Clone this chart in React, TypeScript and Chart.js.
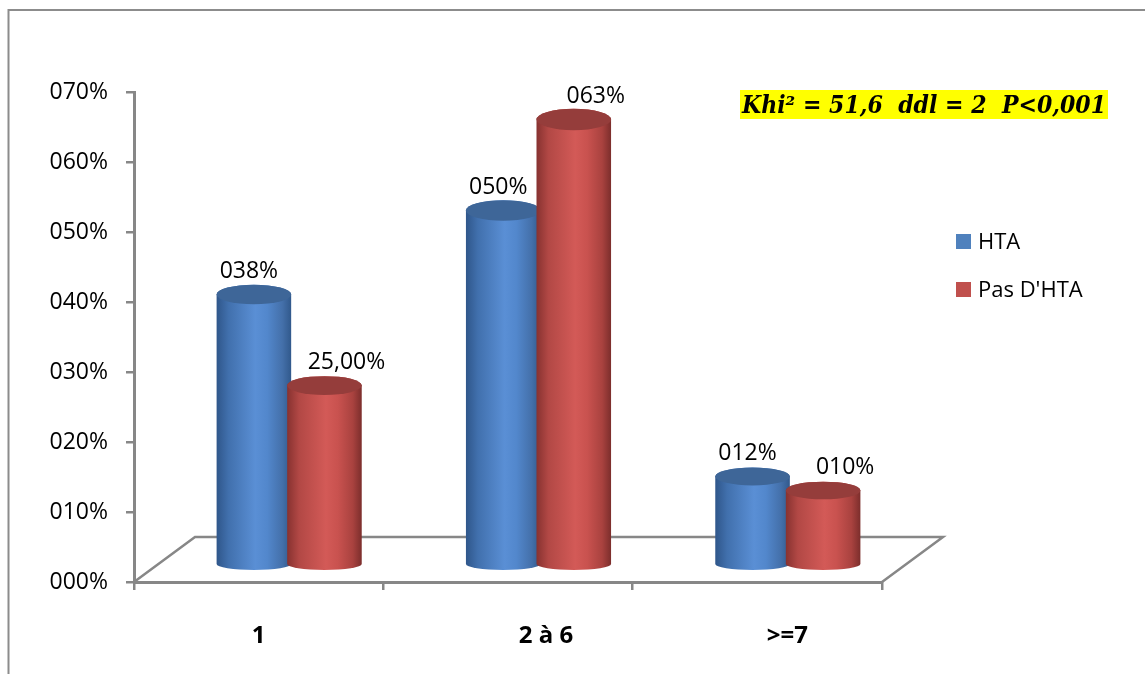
import { useEffect, useRef } from "react";
import { Chart, registerables } from "chart.js";

Chart.register(...registerables);

// ---- data ----
const CATEGORIES = ["1", "2 à 6", ">=7"];
const SERIES_NAMES = ["HTA", "Pas D'HTA"];
const HTA_VALUES = [38, 50, 12];
const PAS_HTA_VALUES = [25, 63, 10];
const HTA_LABELS = ["038%", "050%", "012%"];
const PAS_HTA_LABELS = ["25,00%", "063%", "010%"];
const Y_TICK_LABELS = ["000%", "010%", "020%", "030%", "040%", "050%", "060%", "070%"];
const STATS_NOTE = "Khi² = 51,6  ddl = 2  P<0,001";

// ---- styling ----
const AXIS_GRAY = "#878787";
const FRAME_GRAY = "#8c8c8c";
const SANS = "'Open Sans', 'Noto Sans', sans-serif";
const LEGEND_COLORS = ["#4f81bd", "#c0504d"];
const BODY_STOPS = [
  ["#2f568a", "#4170ad", "#5a8fd5", "#5287cc", "#4470aa", "#31598c"],
  ["#873230", "#b24845", "#d35a57", "#c9524f", "#a9423f", "#7c2e2c"],
];
const TOP_COLORS = ["#3e6698", "#953d3b"];
// floor depth of the 3-D plot box
const DEPTH_X = 61;
const DEPTH_Y = 45;
// category label shifts along the perspective floor
const CAT_LABEL_SHIFT = [0, 38, 30];
// data label placement per series, relative to the top of each cylinder
const VALUE_LABEL_DX = [-5, 22];
const VALUE_LABEL_DY = -23;

function drawCylinder(
  ctx: CanvasRenderingContext2D,
  cx: number,
  r: number,
  yTop: number,
  yBot: number,
  ryTop: number,
  ryBot: number,
  series: number
) {
  const grad = ctx.createLinearGradient(cx - r, 0, cx + r, 0);
  const stops = BODY_STOPS[series];
  const pos = [0, 0.16, 0.52, 0.68, 0.88, 1];
  stops.forEach((c, i) => grad.addColorStop(pos[i], c));

  ctx.beginPath();
  ctx.moveTo(cx - r, yTop);
  ctx.lineTo(cx - r, yBot);
  ctx.ellipse(cx, yBot, r, ryBot, 0, Math.PI, 0, true);
  ctx.lineTo(cx + r, yTop);
  ctx.ellipse(cx, yTop, r, ryTop, 0, 0, Math.PI, true);
  ctx.closePath();
  ctx.fillStyle = grad;
  ctx.fill();

  // top face
  ctx.beginPath();
  ctx.ellipse(cx, yTop, r, ryTop, 0, 0, Math.PI * 2);
  ctx.fillStyle = TOP_COLORS[series];
  ctx.fill();
}

const cylinderPlugin = {
  id: "cylinders3d",
  beforeDatasetsDraw(chart: any) {
    const { ctx, chartArea: a } = chart;
    const yScale = chart.scales.y;

    // floor outline (back edge and both sides)
    ctx.save();
    ctx.strokeStyle = AXIS_GRAY;
    ctx.lineWidth = 2.5;
    ctx.lineJoin = "miter";
    ctx.beginPath();
    ctx.moveTo(a.left, a.bottom);
    ctx.lineTo(a.left + DEPTH_X, a.bottom - DEPTH_Y);
    ctx.lineTo(a.right + DEPTH_X, a.bottom - DEPTH_Y);
    ctx.lineTo(a.right, a.bottom);
    ctx.stroke();

    // cylinders, category by category so the second series overlaps the first
    const base = yScale.getPixelForValue(0);
    const yBot = base - DEPTH_Y / 2 + 4.5;
    for (let i = 0; i < CATEGORIES.length; i++) {
      chart.data.datasets.forEach((ds: any, di: number) => {
        const bar = chart.getDatasetMeta(di).data[i];
        const v = ds.data[i];
        const cx = bar.x + DEPTH_X / 2;
        const r = bar.width / 2 + 2;
        const yTop = yScale.getPixelForValue(v) - DEPTH_Y / 2 + 1;
        const ryTop = 8.5 + v * 0.035;
        drawCylinder(ctx, cx, r, yTop, yBot, ryTop, 6, di);
      });
    }
    ctx.restore();
    return false;
  },
  afterDraw(chart: any) {
    const { ctx, chartArea: a } = chart;
    const xScale = chart.scales.x;
    const yScale = chart.scales.y;
    ctx.save();

    // value labels
    ctx.font = `23px ${SANS}`;
    ctx.fillStyle = "#000";
    ctx.textAlign = "center";
    ctx.textBaseline = "middle";
    const labelSets = [HTA_LABELS, PAS_HTA_LABELS];
    chart.data.datasets.forEach((ds: any, di: number) => {
      chart.getDatasetMeta(di).data.forEach((bar: any, i: number) => {
        const cx = bar.x + DEPTH_X / 2;
        const yTop = yScale.getPixelForValue(ds.data[i]) - DEPTH_Y / 2 + 1;
        ctx.fillText(labelSets[di][i], cx + VALUE_LABEL_DX[di], yTop + VALUE_LABEL_DY);
      });
    });

    // category labels
    ctx.font = `bold 24px ${SANS}`;
    CATEGORIES.forEach((c, i) => {
      ctx.fillText(c, xScale.getPixelForValue(i) + CAT_LABEL_SHIFT[i], a.bottom + 54);
    });

    // legend
    ctx.textAlign = "left";
    ctx.font = `22px ${SANS}`;
    SERIES_NAMES.forEach((name, i) => {
      const cy = 241.5 + i * 48;
      ctx.fillStyle = LEGEND_COLORS[i];
      ctx.fillRect(956, cy - 7.5, 15, 15);
      ctx.fillStyle = "#000";
      ctx.fillText(name, 978, cy + 1);
    });

    // statistics note
    ctx.fillStyle = "#ffff00";
    ctx.fillRect(740, 90, 368, 29);
    ctx.fillStyle = "#000";
    ctx.font = "italic bold 24px 'DejaVu Serif', serif";
    ctx.textBaseline = "alphabetic";
    ctx.fillText(STATS_NOTE, 742, 113, 364);

    // outer frame
    ctx.strokeStyle = FRAME_GRAY;
    ctx.lineWidth = 2;
    ctx.beginPath();
    ctx.moveTo(8.5, chart.height);
    ctx.lineTo(8.5, 10);
    ctx.lineTo(chart.width, 10);
    ctx.stroke();
    ctx.restore();
  },
};

export default function App() {
  const ref = useRef<HTMLCanvasElement>(null);

  useEffect(() => {
    const canvas = ref.current;
    if (!canvas) return;
    const chart = new Chart(canvas, {
      type: "bar",
      data: {
        labels: CATEGORIES,
        datasets: [
          { label: SERIES_NAMES[0], data: HTA_VALUES, backgroundColor: LEGEND_COLORS[0] },
          { label: SERIES_NAMES[1], data: PAS_HTA_VALUES, backgroundColor: LEGEND_COLORS[1] },
        ],
      },
      options: {
        responsive: false,
        animation: false,
        devicePixelRatio: 1,
        layout: { padding: { left: 10, top: 92, right: 263, bottom: 0 } },
        datasets: { bar: { categoryPercentage: 0.566, barPercentage: 1 } },
        plugins: { legend: { display: false }, tooltip: { enabled: false } },
        scales: {
          x: {
            offset: true,
            grid: {
              display: true,
              offset: true,
              drawOnChartArea: false,
              drawTicks: true,
              tickLength: 8,
              color: AXIS_GRAY,
              lineWidth: 2.5,
            },
            border: { display: true, color: AXIS_GRAY, width: 3 },
            ticks: { display: false },
            afterFit: (s: any) => {
              s.height = 92;
            },
          },
          y: {
            min: 0,
            max: 70,
            grid: {
              display: true,
              drawOnChartArea: false,
              drawTicks: true,
              tickLength: 8,
              color: AXIS_GRAY,
              lineWidth: 2.5,
            },
            border: { display: true, color: AXIS_GRAY, width: 3 },
            ticks: {
              stepSize: 10,
              padding: 18,
              color: "#000",
              font: { family: SANS, size: 23 },
              callback: (_v: any, i: number) => Y_TICK_LABELS[i],
            },
            afterFit: (s: any) => {
              s.width = 124;
            },
          },
        },
      },
      plugins: [cylinderPlugin],
    });
    return () => chart.destroy();
  }, []);

  return (
    <div
      style={{
        position: "fixed",
        left: 0,
        top: 0,
        width: 1145,
        height: 674,
        background: "#fff",
        overflow: "hidden",
      }}
    >
      <canvas ref={ref} width={1145} height={674} style={{ display: "block", width: 1145, height: 674 }} />
    </div>
  );
}
